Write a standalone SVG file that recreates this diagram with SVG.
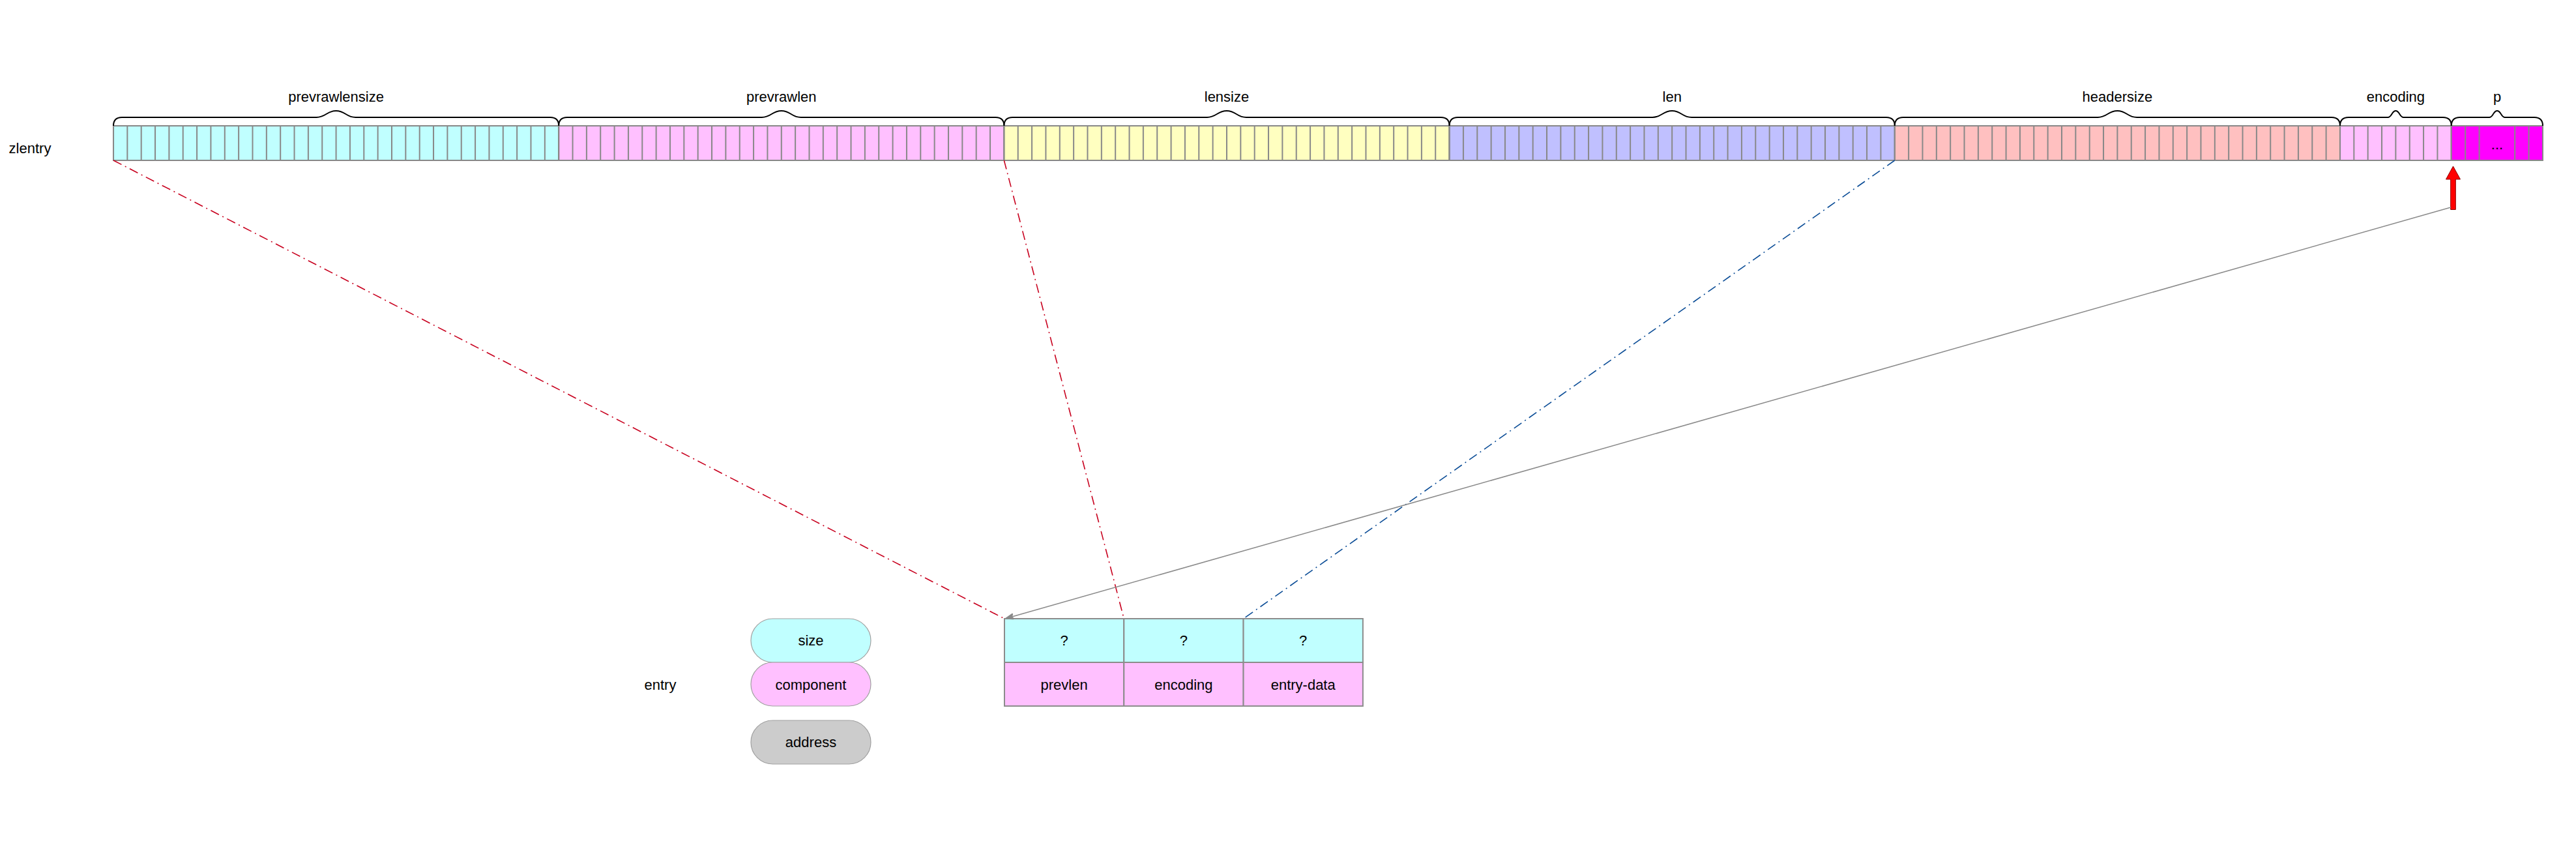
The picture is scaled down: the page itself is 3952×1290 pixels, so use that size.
<svg xmlns="http://www.w3.org/2000/svg" width="3952" height="1290" viewBox="0 0 3952 1290">
<style>
text{font-family:"Liberation Sans",Arial,sans-serif;font-size:22px;fill:#000;text-anchor:middle}
.lbl{text-anchor:middle}
.seg{stroke:#888;stroke-width:2}
.cells{fill:url(#cells)}
.brace{fill:none;stroke:#000;stroke-width:2}
.cellline{stroke:#888;stroke-width:2}
.pill{stroke:#a0a0a0;stroke-width:1.2}
.tcell{stroke:#8c8c8c;stroke-width:2}
.dd-red{fill:none;stroke:#C8001E;stroke-width:1.6;stroke-dasharray:14 6 2 6}
.dd-blue{fill:none;stroke:#0A4C96;stroke-width:1.6;stroke-dasharray:14 6 2 6}
.conn{fill:none;stroke:#8a8a8a;stroke-width:1.6}
</style>
<defs>
<pattern id="cells" patternUnits="userSpaceOnUse" x="173" y="0" width="21.35" height="1290">
<rect x="0" y="0" width="2" height="1290" fill="#888"/>
</pattern>
<marker id="arr" viewBox="0 0 14 10" refX="14" refY="5" markerWidth="14" markerHeight="10" markerUnits="userSpaceOnUse" orient="auto">
<path d="M0,0 L14,5 L0,10 L3,5 Z" fill="#8a8a8a" stroke="#8a8a8a" stroke-width="1"/>
</marker>
</defs>
<rect width="3952" height="1290" fill="#fff"/>

<g id="label-zlentry"><text x="46" y="235">zlentry</text></g>

<g id="seg-prevrawlensize">
<rect x="174" y="193" width="683.2" height="53" fill="#C0FFFF"/>
<rect x="174" y="193" width="683.2" height="53" class="cells"/>
<rect x="174" y="193" width="683.2" height="53" fill="none" class="seg"/>
<path class="brace" d="M174,193 Q174,180 187,180 H485.6 C500,180 501,170 515.6,170 C530,170 531,180 545.6,180 H844.2 Q857.2,180 857.2,193"/>
<text x="515.6" y="156">prevrawlensize</text>
</g>

<g id="seg-prevrawlen">
<rect x="857.2" y="193" width="683.2" height="53" fill="#FFC0FF"/>
<rect x="857.2" y="193" width="683.2" height="53" class="cells"/>
<rect x="857.2" y="193" width="683.2" height="53" fill="none" class="seg"/>
<path class="brace" d="M857.2,193 Q857.2,180 870.2,180 H1168.8 C1183.2,180 1184.2,170 1198.8,170 C1213.2,170 1214.2,180 1228.8,180 H1527.4 Q1540.4,180 1540.4,193"/>
<text x="1198.8" y="156">prevrawlen</text>
</g>

<g id="seg-lensize">
<rect x="1540.4" y="193" width="683.2" height="53" fill="#FFFFC0"/>
<rect x="1540.4" y="193" width="683.2" height="53" class="cells"/>
<rect x="1540.4" y="193" width="683.2" height="53" fill="none" class="seg"/>
<path class="brace" d="M1540.4,193 Q1540.4,180 1553.4,180 H1852 C1866.4,180 1867.4,170 1882,170 C1896.4,170 1897.4,180 1912,180 H2210.6 Q2223.6,180 2223.6,193"/>
<text x="1882" y="156">lensize</text>
</g>

<g id="seg-len">
<rect x="2223.6" y="193" width="683.2" height="53" fill="#C0C0FF"/>
<rect x="2223.6" y="193" width="683.2" height="53" class="cells"/>
<rect x="2223.6" y="193" width="683.2" height="53" fill="none" class="seg"/>
<path class="brace" d="M2223.6,193 Q2223.6,180 2236.6,180 H2535.2 C2549.6,180 2550.6,170 2565.2,170 C2579.6,170 2580.6,180 2595.2,180 H2893.8 Q2906.8,180 2906.8,193"/>
<text x="2565.2" y="156">len</text>
</g>

<g id="seg-headersize">
<rect x="2906.8" y="193" width="683.2" height="53" fill="#FFC0C0"/>
<rect x="2906.8" y="193" width="683.2" height="53" class="cells"/>
<rect x="2906.8" y="193" width="683.2" height="53" fill="none" class="seg"/>
<path class="brace" d="M2906.8,193 Q2906.8,180 2919.8,180 H3218.4 C3232.8,180 3233.8,170 3248.4,170 C3262.8,170 3263.8,180 3278.4,180 H3577 Q3590,180 3590,193"/>
<text x="3248.4" y="156">headersize</text>
</g>

<g id="seg-encoding">
<rect x="3590" y="193" width="170.8" height="53" fill="#FFC0FF"/>
<rect x="3590" y="193" width="170.8" height="53" class="cells"/>
<rect x="3590" y="193" width="170.8" height="53" fill="none" class="seg"/>
<path class="brace" d="M3590,193 Q3590,180 3603,180 H3663.4 C3669.4,180 3669.4,170 3675.4,170 C3681.4,170 3681.4,180 3687.4,180 H3747.8 Q3760.8,180 3760.8,193"/>
<text x="3675.4" y="156">encoding</text>
</g>

<g id="seg-p">
<rect x="3760.8" y="193" width="140.2" height="53" fill="#FF00FF" class="seg"/>
<path class="cellline" d="M3782.2,193 V246 M3803.6,193 V246 M3858.2,193 V246 M3879.6,193 V246"/>
<path class="brace" d="M3760.8,193 Q3760.8,180 3773.8,180 H3819 C3825,180 3825,170 3831,170 C3837,170 3837,180 3843,180 H3888 Q3901,180 3901,193"/>
<text x="3831" y="156">p</text>
<text x="3831" y="229">...</text>
</g>

<g id="pointer-arrow">
<polygon points="3763.5,255 3774.5,275 3767.3,275 3767.3,321.5 3759.7,321.5 3759.7,275 3752.5,275" fill="#FF0000" stroke="#8a0000" stroke-width="1"/>
</g>

<g id="legend">
<g id="legend-entry"><text x="1013" y="1058">entry</text></g>
<g id="legend-size"><rect x="1152" y="949" width="184" height="67" rx="33.5" fill="#C0FFFF" class="pill"/><text x="1244" y="990">size</text></g>
<g id="legend-component"><rect x="1152" y="1016" width="184" height="67" rx="33.5" fill="#FFC0FF" class="pill"/><text x="1244" y="1058">component</text></g>
<g id="legend-address"><rect x="1152" y="1105" width="184" height="67" rx="33.5" fill="#CCCCCC" class="pill"/><text x="1244" y="1146">address</text></g>
</g>

<g id="entry-table">
<g id="cell-size-prevlen"><rect x="1541" y="949" width="183.3" height="67" fill="#C0FFFF" class="tcell"/><text x="1632.6" y="990">?</text></g>
<g id="cell-size-encoding"><rect x="1724.3" y="949" width="183.3" height="67" fill="#C0FFFF" class="tcell"/><text x="1815.9" y="990">?</text></g>
<g id="cell-size-entrydata"><rect x="1907.6" y="949" width="183.3" height="67" fill="#C0FFFF" class="tcell"/><text x="1999.2" y="990">?</text></g>
<g id="cell-prevlen"><rect x="1541" y="1016" width="183.3" height="67" fill="#FFC0FF" class="tcell"/><text x="1632.6" y="1058">prevlen</text></g>
<g id="cell-encoding"><rect x="1724.3" y="1016" width="183.3" height="67" fill="#FFC0FF" class="tcell"/><text x="1815.9" y="1058">encoding</text></g>
<g id="cell-entrydata"><rect x="1907.6" y="1016" width="183.3" height="67" fill="#FFC0FF" class="tcell"/><text x="1999.2" y="1058">entry-data</text></g>
</g>

<g id="connectors">
<path class="dd-red" d="M174,246 L1541,949"/>
<path class="dd-red" d="M1540.4,246 L1724.3,949"/>
<path class="dd-blue" d="M2906.8,246 L1907.6,949"/>
<path class="conn" d="M3760,318 L1542,949" marker-end="url(#arr)"/>
</g>
</svg>
